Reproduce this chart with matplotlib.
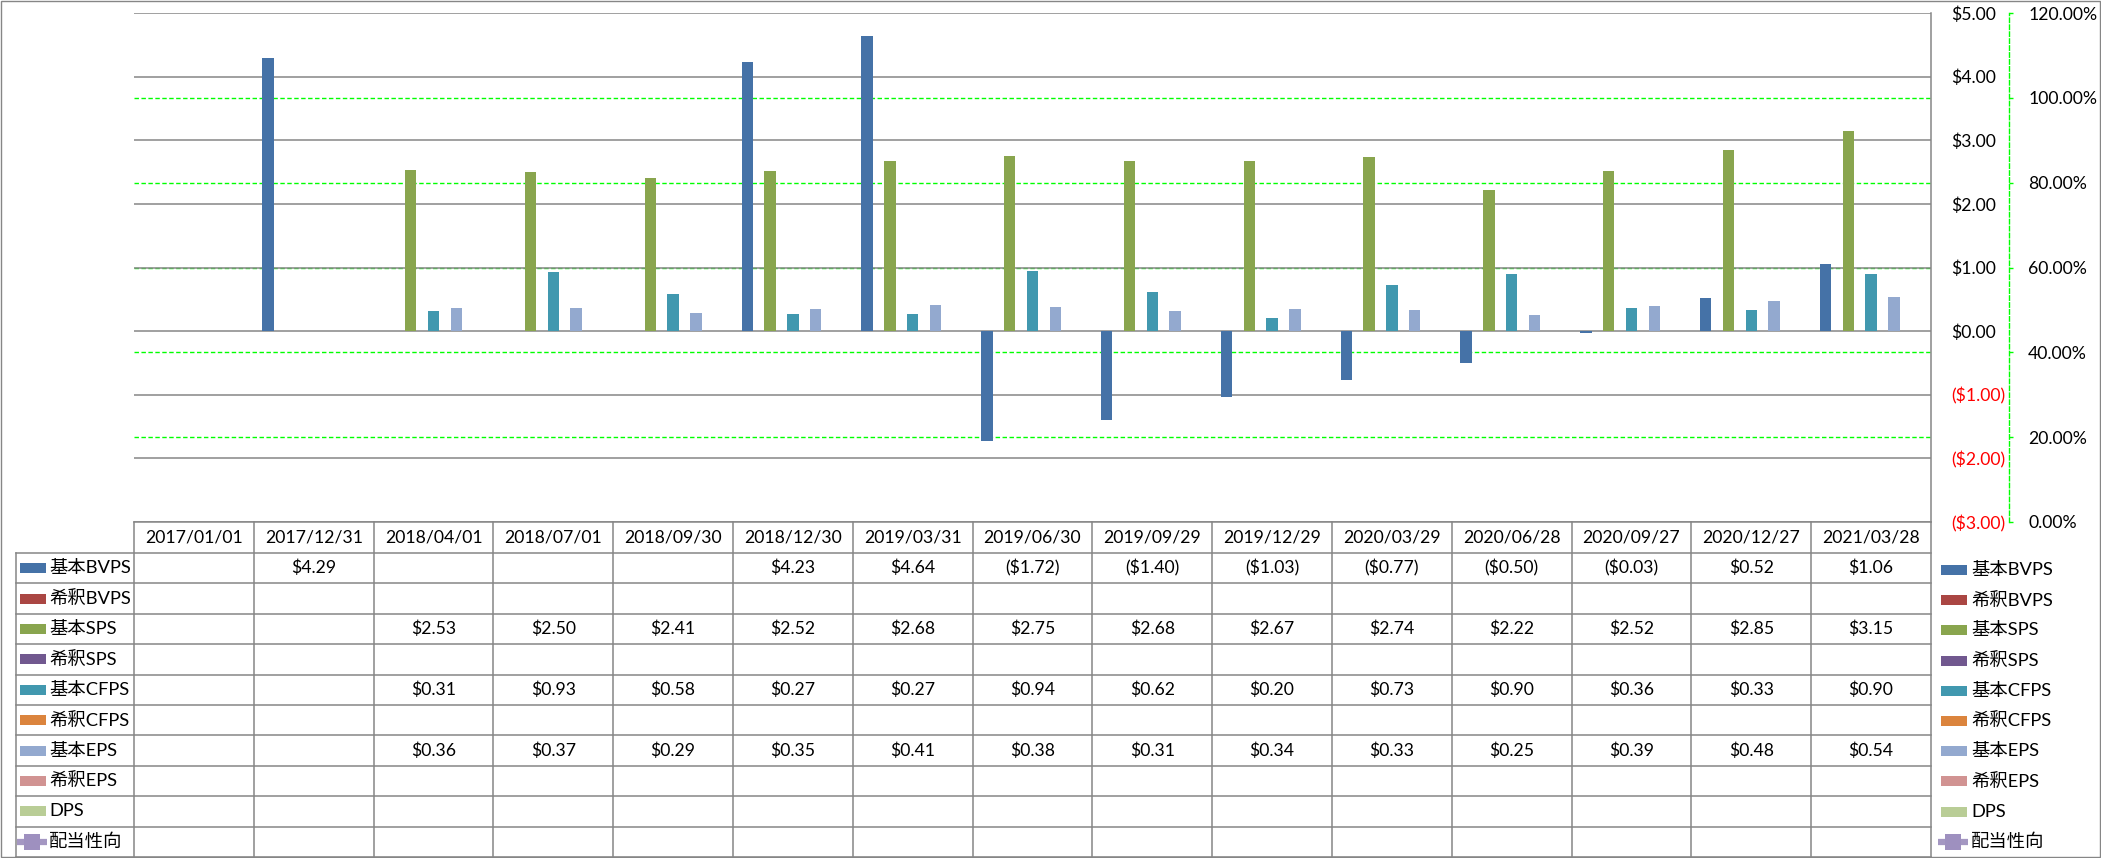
import numpy as np
import matplotlib
matplotlib.use("Agg")
import matplotlib.pyplot as plt
from matplotlib.patches import Rectangle
from matplotlib.ticker import FixedLocator, FuncFormatter

plt.rcParams["font.family"] = ["Lato", "Noto Sans CJK JP", "DejaVu Sans"]

nan = np.nan

dates = ["2017/01/01", "2017/12/31", "2018/04/01", "2018/07/01", "2018/09/30",
         "2018/12/30", "2019/03/31", "2019/06/30", "2019/09/29", "2019/12/29",
         "2020/03/29", "2020/06/28", "2020/09/27", "2020/12/27", "2021/03/28"]

bvps_basic = [nan, 4.29, nan, nan, nan, 4.23, 4.64, -1.72, -1.40, -1.03, -0.77, -0.50, -0.03, 0.52, 1.06]
bvps_diluted = [nan] * 15
sps_basic = [nan, nan, 2.53, 2.50, 2.41, 2.52, 2.68, 2.75, 2.68, 2.67, 2.74, 2.22, 2.52, 2.85, 3.15]
sps_diluted = [nan] * 15
cfps_basic = [nan, nan, 0.31, 0.93, 0.58, 0.27, 0.27, 0.94, 0.62, 0.20, 0.73, 0.90, 0.36, 0.33, 0.90]
cfps_diluted = [nan] * 15
eps_basic = [nan, nan, 0.36, 0.37, 0.29, 0.35, 0.41, 0.38, 0.31, 0.34, 0.33, 0.25, 0.39, 0.48, 0.54]
eps_diluted = [nan] * 15
dps = [nan] * 15
payout_ratio = [nan] * 15

bar_series = [
    ("基本BVPS", bvps_basic, "#4572A7"),
    ("希釈BVPS", bvps_diluted, "#AA4643"),
    ("基本SPS", sps_basic, "#89A54E"),
    ("希釈SPS", sps_diluted, "#71588F"),
    ("基本CFPS", cfps_basic, "#4198AF"),
    ("希釈CFPS", cfps_diluted, "#DB843D"),
    ("基本EPS", eps_basic, "#93A9CF"),
    ("希釈EPS", eps_diluted, "#D19392"),
    ("DPS", dps, "#B9CD96"),
]
line_name = "配当性向"
line_color = "#A497C2"

GRID = "#868686"
GREEN = "#00FF00"
FS = 12.7

W, H = 2101, 858
fig = plt.figure(figsize=(W / 100, H / 100), dpi=100)

# plot area in pixel terms
px_l, px_r, px_t, px_b = 134, 1931, 13, 522
ax = fig.add_axes([px_l / W, 1 - px_b / H, (px_r - px_l) / W, (px_b - px_t) / H])
ax2 = ax.twinx()
ax.set_zorder(ax2.get_zorder() + 1)
ax.patch.set_visible(False)

n_cat = len(dates)
n_bar = len(bar_series)
x = np.arange(n_cat)
bw = 1 / (n_bar + 1.5)
for i, (name, vals, color) in enumerate(bar_series):
    ax.bar(x + (i - (n_bar - 1) / 2) * bw, np.array(vals, dtype=float), width=bw,
           color=color, linewidth=0, zorder=3)

ax.set_xlim(-0.5, n_cat - 0.5)
ax.set_ylim(-3, 5)
ax.set_xticks([])
ax.yaxis.tick_right()
ax.yaxis.set_major_locator(FixedLocator(np.arange(-3, 6)))


def money(v, pos=None):
    return f"(${-v:.2f})" if v < 0 else f"${v:.2f}"


ax.yaxis.set_major_formatter(FuncFormatter(money))
ax.tick_params(axis="y", length=0, pad=14.4, labelsize=FS)
for t, v in zip(ax.get_yticklabels(), np.arange(-3, 6)):
    t.set_color("red" if v < 0 else "black")
for yv in np.arange(-3, 6):
    ax.axhline(yv, color=GRID, linewidth=1.1, zorder=1)
for s in ["left", "top", "bottom"]:
    ax.spines[s].set_visible(False)
ax.spines["right"].set_color(GRID)
ax.spines["right"].set_linewidth(1.1)

# secondary axis: payout ratio
ax2.plot(x, np.array(payout_ratio, dtype=float), color=line_color, marker="s")
ax2.set_ylim(0, 1.2)
ax2.set_yticks(np.arange(0, 1.21, 0.2))
ax2.yaxis.set_major_formatter(FuncFormatter(lambda v, p: f"{v * 100:.2f}%"))
ax2.tick_params(axis="y", length=3, width=1, color=GREEN, pad=10.8, labelsize=FS)
for yv in np.arange(0.2, 1.01, 0.2):
    ax2.axhline(yv, color=GREEN, linewidth=1.0, dashes=(3.2, 1.8), zorder=0)
for s in ["left", "top", "bottom"]:
    ax2.spines[s].set_visible(False)
ax2.spines["right"].set_position(("axes", (2009 - px_l) / (px_r - px_l)))
ax2.spines["right"].set_color(GREEN)
ax2.spines["right"].set_linestyle((0, (3.2, 1.8)))
ax2.spines["right"].set_linewidth(1.0)

# overlay in pixel coordinates for the data table and legend
ov = fig.add_axes([0, 0, 1, 1], zorder=-1)
ov.set_xlim(0, W)
ov.set_ylim(H, 0)
ov.axis("off")

col_w = (px_r - px_l) / n_cat
head_t, head_b, tab_b = 522, 553, 857
row_h = (tab_b - head_b) / 10
row_names = [s[0] for s in bar_series] + [line_name]
row_colors = [s[2] for s in bar_series] + [line_color]
row_vals = [s[1] for s in bar_series] + [payout_ratio]

ov.plot([px_l, px_r], [head_t, head_t], color=GRID, lw=1.1)
for j in range(11):
    yy = head_b + j * row_h
    ov.plot([16, px_r], [yy, yy], color=GRID, lw=1.1)
ov.plot([16, 16], [head_b, tab_b], color=GRID, lw=1.1)
for k in range(n_cat + 1):
    xx = px_l + k * col_w
    ov.plot([xx, xx], [head_t, tab_b], color=GRID, lw=1.1)

for k, d in enumerate(dates):
    ov.text(px_l + (k + 0.5) * col_w, (head_t + head_b) / 2, d,
            ha="center", va="center", fontsize=FS)


def key(xl, yc, j):
    if j < n_bar:
        ov.add_patch(Rectangle((xl, yc - 5), 26, 10, color=row_colors[j], lw=0))
    else:
        ov.plot([xl - 3, xl + 27], [yc, yc], color=row_colors[j], lw=4.5,
                solid_capstyle="butt")
        ov.plot([xl + 12], [yc], marker="s", markersize=11, color="#9E90BF",
                markeredgewidth=0)


for j, name in enumerate(row_names):
    yc = head_b + (j + 0.5) * row_h
    key(20, yc, j)
    ov.text(49, yc, name, ha="left", va="center", fontsize=13.2)
    for k in range(n_cat):
        v = row_vals[j][k]
        if np.isfinite(v):
            ov.text(px_l + (k + 0.5) * col_w, yc, money(v), ha="center",
                    va="center", fontsize=FS)

# legend to the right of the table
for j, name in enumerate(row_names):
    yc = 570 + j * 30.2
    key(1941, yc, j)
    ov.text(1971, yc, name, ha="left", va="center", fontsize=13.2)

# chart border
ov.add_patch(Rectangle((1, 1), W - 2.5, H - 2.5, fill=False, edgecolor=GRID, lw=1.0))

fig.savefig("out.png", dpi=100, facecolor="white")
